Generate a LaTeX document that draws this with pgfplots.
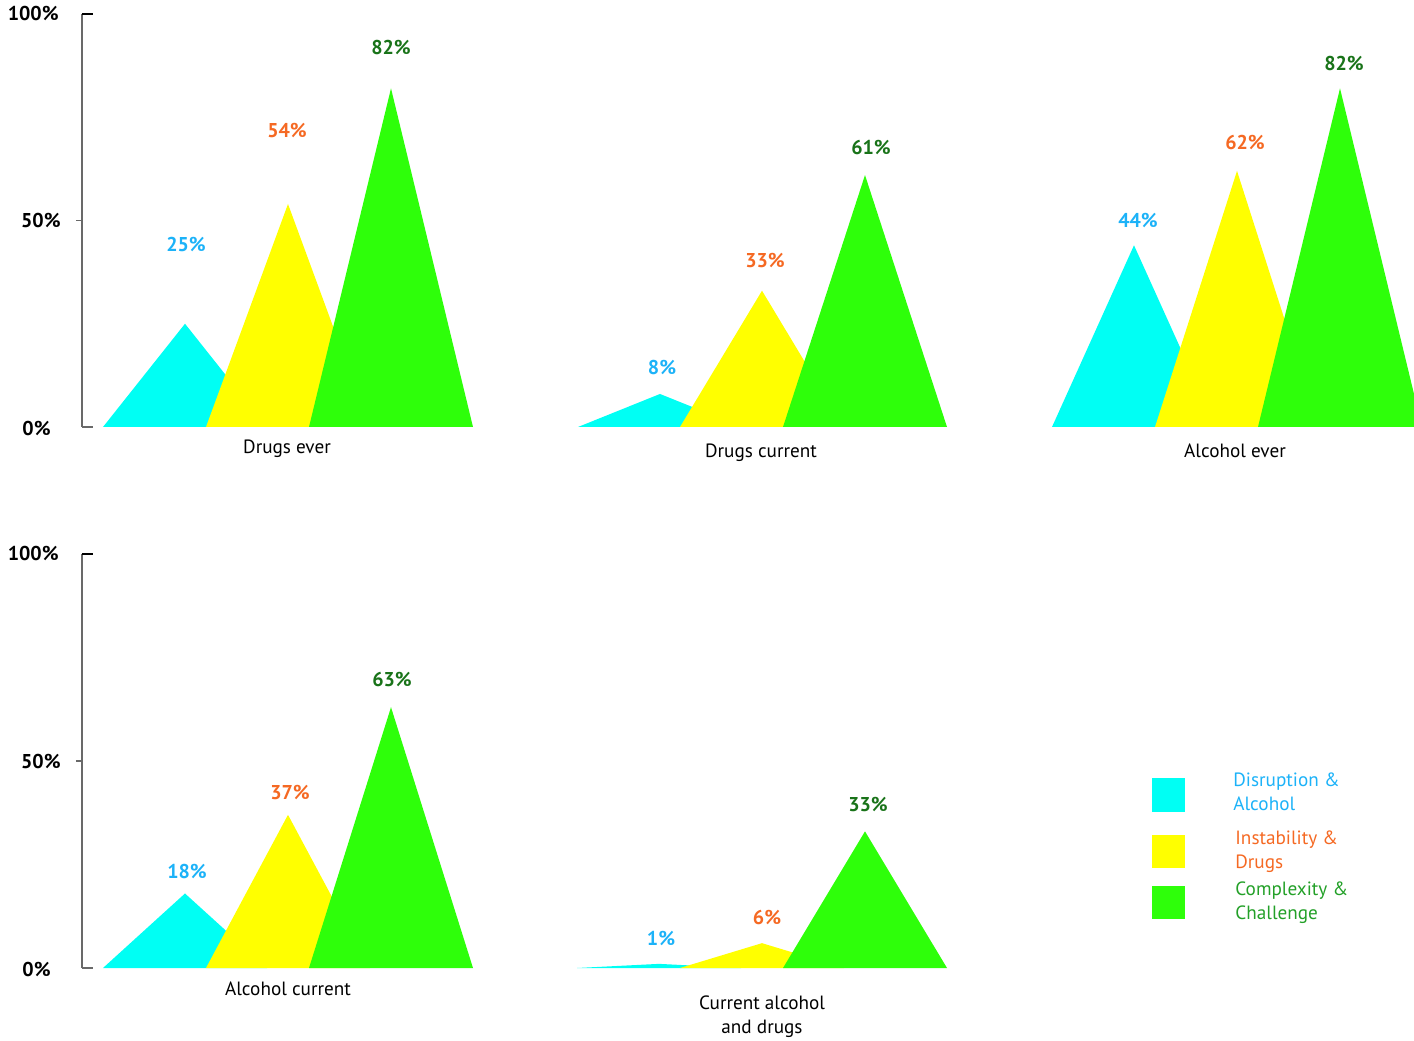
\documentclass[border=0pt]{standalone}
\usepackage{pgfplots}
\pgfplotsset{compat=1.18}
\usepackage{fontspec}
\setmainfont{PT Sans}

\definecolor{cyanF}{RGB}{0,255,244}
\definecolor{yellowF}{RGB}{255,255,0}
\definecolor{greenF}{RGB}{46,255,10}
\definecolor{cyanT}{RGB}{28,178,248}
\definecolor{orangeT}{RGB}{245,105,35}
\definecolor{greenT}{RGB}{25,115,25}
\definecolor{greenL}{RGB}{35,160,40}
\definecolor{axisgray}{RGB}{105,105,105}

\newcommand{\valfont}{\fontsize{10}{12}\selectfont\bfseries}
\newcommand{\catfont}{\fontsize{9.6}{12}\selectfont}

\pgfplotsset{
  rowaxis/.style={
    scale only axis,
    width=666pt,
    xmin=82, xmax=1414,
    ymin=0, ymax=100,
    axis x line=none,
    axis y line*=left,
    y axis line style={draw=axisgray, line width=1pt, -},
    ytick=\empty,
    clip mode=individual,
  },
  tri/.style={draw=none, fill=#1},
}

% value axis: tick marks and percent labels
\newcommand{\valueaxis}{%
  \draw[black, line width=0.8pt] (axis cs:82,100) -- (axis cs:93,100);
  \draw[axisgray, line width=0.6pt] (axis cs:76,50) -- (axis cs:82,50);
  \draw[axisgray, line width=0.8pt] (axis cs:82,0) -- (axis cs:93,0);
  \node[font=\valfont, anchor=east, inner sep=0pt] at (axis cs:59,100.2) {100\%};
  \node[font=\valfont, anchor=east, inner sep=0pt] at (axis cs:61,50) {50\%};
  \node[font=\valfont, anchor=east, inner sep=0pt] at (axis cs:51,-0.4) {0\%};
}

\begin{document}
\begin{tikzpicture}
\useasboundingbox (0,0) rectangle (707pt,520pt);

% ---------------- top row ----------------
\begin{axis}[rowaxis, height=206.5pt, at={(41pt,306.5pt)}, anchor=south west]
  % Disruption & Alcohol
  \addplot[tri=cyanF] coordinates {(103,0) (185,25) (267,0)} \closedcycle;
  \addplot[tri=cyanF] coordinates {(578,0) (660,8) (742,0)} \closedcycle;
  \addplot[tri=cyanF] coordinates {(1052,0) (1134,44) (1216,0)} \closedcycle;
  % Instability & Drugs
  \addplot[tri=yellowF] coordinates {(206,0) (288,54) (370,0)} \closedcycle;
  \addplot[tri=yellowF] coordinates {(680,0) (762,33) (844,0)} \closedcycle;
  \addplot[tri=yellowF] coordinates {(1155,0) (1237,62) (1319,0)} \closedcycle;
  % Complexity & Challenge
  \addplot[tri=greenF] coordinates {(309,0) (391,82) (473,0)} \closedcycle;
  \addplot[tri=greenF] coordinates {(783,0) (865,61) (947,0)} \closedcycle;
  \addplot[tri=greenF] coordinates {(1258,0) (1340,82) (1422,0)} \closedcycle;

  % value labels
  \node[font=\valfont, text=cyanT]   at (axis cs:186,44.3) {25\%};
  \node[font=\valfont, text=orangeT] at (axis cs:287,71.9) {54\%};
  \node[font=\valfont, text=greenT]  at (axis cs:391,91.8) {82\%};
  \node[font=\valfont, text=cyanT]   at (axis cs:662,14.5) {8\%};
  \node[font=\valfont, text=orangeT] at (axis cs:765,40.2) {33\%};
  \node[font=\valfont, text=greenT]  at (axis cs:871,67.6) {61\%};
  \node[font=\valfont, text=cyanT]   at (axis cs:1138,50.1) {44\%};
  \node[font=\valfont, text=orangeT] at (axis cs:1245,68.8) {62\%};
  \node[font=\valfont, text=greenT]  at (axis cs:1344,88.1) {82\%};

  % category labels
  \node[font=\catfont] at (axis cs:287,-5.3) {Drugs ever};
  \node[font=\catfont] at (axis cs:761,-6.3) {Drugs current};
  \node[font=\catfont] at (axis cs:1235,-5.8) {Alcohol ever};

  \valueaxis
\end{axis}

% ---------------- bottom row ----------------
\begin{axis}[rowaxis, height=207pt, at={(41pt,36pt)}, anchor=south west]
  \addplot[tri=cyanF] coordinates {(103,0) (185,18) (267,0)} \closedcycle;
  \addplot[tri=cyanF] coordinates {(577,0) (659,1) (741,0)} \closedcycle;
  \addplot[tri=yellowF] coordinates {(206,0) (288,37) (370,0)} \closedcycle;
  \addplot[tri=yellowF] coordinates {(680,0) (762,6) (844,0)} \closedcycle;
  \addplot[tri=greenF] coordinates {(309,0) (391,63) (473,0)} \closedcycle;
  \addplot[tri=greenF] coordinates {(783,0) (865,33) (947,0)} \closedcycle;

  \node[font=\valfont, text=cyanT]   at (axis cs:187,23.4) {18\%};
  \node[font=\valfont, text=orangeT] at (axis cs:290,42.5) {37\%};
  \node[font=\valfont, text=greenT]  at (axis cs:392,69.6) {63\%};
  \node[font=\valfont, text=cyanT]   at (axis cs:661,7.2) {1\%};
  \node[font=\valfont, text=orangeT] at (axis cs:767,12.3) {6\%};
  \node[font=\valfont, text=greenT]  at (axis cs:868,39.4) {33\%};

  \node[font=\catfont] at (axis cs:288,-5.1) {Alcohol current};
  \node[font=\catfont, align=center] at (axis cs:762,-11.8) {Current alcohol\\and drugs};

  \valueaxis

  % legend
  \fill[cyanF]   (axis cs:1152,37.7) rectangle (axis cs:1185,45.9);
  \fill[yellowF] (axis cs:1152,24.2) rectangle (axis cs:1185,32.1);
  \fill[greenF]  (axis cs:1152,11.8) rectangle (axis cs:1185,19.8);
  \node[font=\catfont, text=cyanT, anchor=west, align=left, inner sep=0pt]
    at (axis cs:1233,42.6) {Disruption \&\\Alcohol};
  \node[font=\catfont, text=orangeT, anchor=west, align=left, inner sep=0pt]
    at (axis cs:1235,28.1) {Instability \&\\Drugs};
  \node[font=\catfont, text=greenL, anchor=west, align=left, inner sep=0pt]
    at (axis cs:1235,15.7) {Complexity \&\\Challenge};
\end{axis}
\end{tikzpicture}
\end{document}
